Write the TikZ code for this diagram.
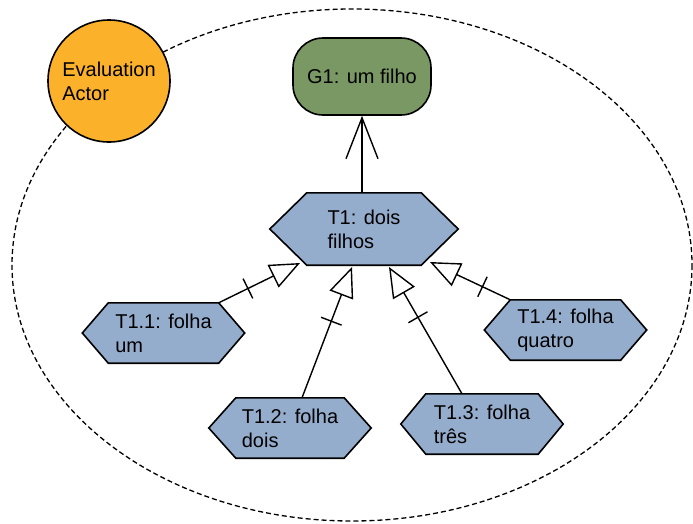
\documentclass[tikz,border=0pt]{standalone}
\usepackage{fontspec}
\setmainfont{Liberation Sans}
\usetikzlibrary{arrows.meta,calc}
\pgfdeclarelayer{background}
\pgfsetlayers{background,main}
\definecolor{actorfill}{RGB}{251,178,42}
\definecolor{goalfill}{RGB}{122,152,100}
\definecolor{taskfill}{RGB}{149,173,205}
\tikzset{
  lbl/.style={align=left, inner sep=0pt, font=\fontsize{20}{24}\selectfont},
  task/.style={lbl, minimum width=162, minimum height=60},
  hexa/.style={draw=black, fill=taskfill, line width=1.6pt, line join=miter},
  boundary/.style={draw=black, line width=1.3pt, dash pattern=on 5pt off 3pt},
  actor/.style={lbl, circle, draw=black, fill=actorfill, line width=1.6pt, minimum size=122},
  goal/.style={lbl, draw=black, fill=goalfill, line width=1.6pt, rounded corners=30, minimum width=138, minimum height=77},
  decomp/.style={line width=1.4pt, -{Triangle[open, length=30pt, width=25pt, line width=1.4pt]}},
  meansend/.style={line width=1.4pt, -{Straight Barb[length=41pt, width=32pt, line width=1.4pt]}},
  tickmark/.style={line width=1.4pt}
}
% decomposition link with a cross tick behind the open head
\newcommand\declink[2]{%
  \draw[decomp] (#1) -- (#2);
  \draw[tickmark] ($(#2)!58pt!(#1)!11pt!90:(#1)$) -- ($(#2)!58pt!(#1)!11pt!-90:(#1)$);
}
\begin{document}
\begin{tikzpicture}[x=1pt, y=-1pt]
  \useasboundingbox (0,0) rectangle (693,523);

  % actor boundary
  \draw[boundary] (352,265) ellipse [x radius=340, y radius=256];

  % actor
  \node[actor] (actor) at (109,81) {Evaluation\\Actor};

  % goal
  \node[goal] (g1) at (362,76.5) {G1: um filho};

  % tasks
  \node[lbl, minimum width=188, minimum height=72] (t1) at (364,229) {T1: dois\\filhos};
  \node[task] (t11) at (163.5,333) {T1.1: folha\\um};
  \node[task] (t12) at (290,428) {T1.2: folha\\dois};
  \node[task] (t13) at (482,424) {T1.3: folha\\três};
  \node[task] (t14) at (565.5,330) {T1.4: folha\\quatro};

  \begin{pgfonlayer}{background}
    \foreach \n/\i in {t1/37, t11/26, t12/27, t13/25, t14/26} {
      \draw[hexa] (\n.west) -- ([xshift=\i pt]\n.north west) -- ([xshift=-\i pt]\n.north east)
        -- (\n.east) -- ([xshift=-\i pt]\n.south east) -- ([xshift=\i pt]\n.south west) -- cycle;
    }
  \end{pgfonlayer}

  % link ends
  \coordinate (s11) at ([xshift=-26pt]t11.north east);
  \coordinate (s12) at ([xshift=12pt]t12.north);
  \coordinate (s13) at ([xshift=-20pt]t13.north);
  \coordinate (s14) at ([xshift=26pt]t14.north west);
  \coordinate (e11) at (300,263);
  \coordinate (e12) at (352,267);
  \coordinate (e13) at (389,267);
  \coordinate (e14) at (430,262);

  % means-end link
  \draw[meansend] (t1.north -| g1.south) -- (g1.south);

  % decomposition links
  \declink{s11}{e11}
  \declink{s12}{e12}
  \declink{s13}{e13}
  \declink{s14}{e14}
\end{tikzpicture}
\end{document}
